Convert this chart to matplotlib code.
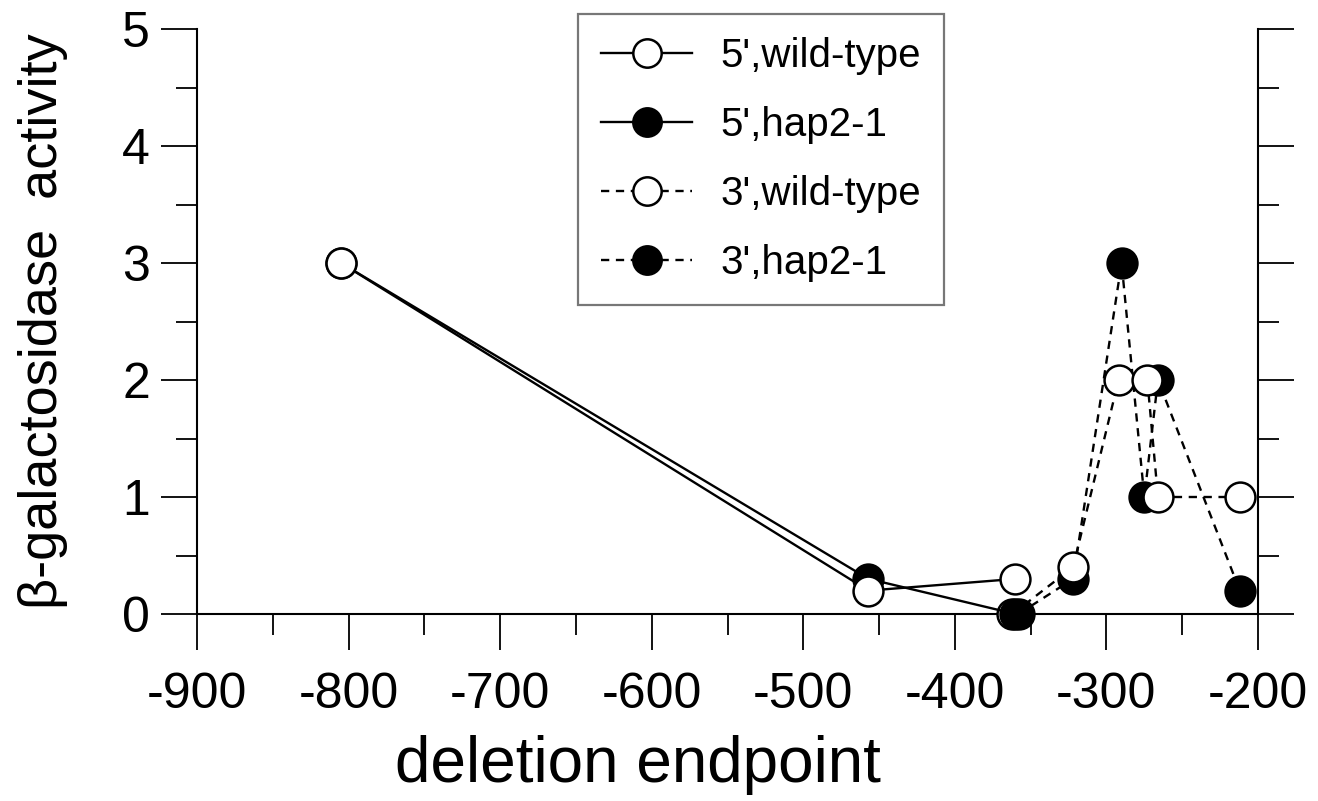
import matplotlib
matplotlib.use("Agg")
import matplotlib.pyplot as plt
from matplotlib.ticker import MultipleLocator

plt.rcParams['font.family'] = ['Liberation Sans', 'DejaVu Sans']
plt.rcParams['axes.unicode_minus'] = False

# data
x_5wt = [-805, -457, -360]
y_5wt = [3.0, 0.2, 0.3]
x_5hap = [-805, -457, -360]
y_5hap = [3.0, 0.3, 0.0]
x_3wt = [-362, -322, -292, -273, -266, -212]
y_3wt = [0.0, 0.4, 2.0, 2.0, 1.0, 1.0]
x_3hap = [-358, -322, -290, -275, -266, -212]
y_3hap = [0.0, 0.3, 3.0, 1.0, 2.0, 0.2]

labels = ["5',wild-type", "5',hap2-1", "3',wild-type", "3',hap2-1"]
x_ticks = [-900, -800, -700, -600, -500, -400, -300, -200]
y_ticks = [0, 1, 2, 3, 4, 5]

W, H = 1318, 801
fig = plt.figure(figsize=(W / 100, H / 100), dpi=100)
ax = fig.add_axes([197 / W, 1 - 614 / H, (1258 - 197) / W, (614 - 29) / H])

ms = 21.5
mew = 1.8
lw = 1.7
dash = (3.5, 2.8)

l3h, = ax.plot(x_3hap, y_3hap, color='black', lw=lw, dashes=dash, marker='o', ms=ms,
               mfc='black', mec='black', mew=mew, zorder=2)
l3w, = ax.plot(x_3wt, y_3wt, color='black', lw=lw, dashes=dash, marker='o', ms=ms,
               mfc='white', mec='black', mew=mew, zorder=3)
l5h, = ax.plot(x_5hap, y_5hap, color='black', lw=lw, marker='o', ms=ms,
               mfc='black', mec='black', mew=mew, zorder=4)
l5w, = ax.plot(x_5wt, y_5wt, color='black', lw=lw, marker='o', ms=ms,
               mfc='white', mec='black', mew=mew, zorder=5)

for l in (l3h, l3w, l5h, l5w):
    l.set_clip_on(False)

ax.set_xlim(-900, -200)
ax.set_ylim(0, 5)
ax.set_xticks(x_ticks)
ax.set_yticks(y_ticks)
ax.xaxis.set_minor_locator(MultipleLocator(50))
ax.yaxis.set_minor_locator(MultipleLocator(0.5))

for s in ('left', 'right', 'bottom'):
    ax.spines[s].set_linewidth(1.5)
ax.spines['top'].set_visible(False)

ax.tick_params(axis='both', which='major', direction='out', length=26, width=1.3,
               labelsize=36, pad=8)
ax.tick_params(axis='both', which='minor', direction='out', length=15, width=1.3)
ax.tick_params(axis='y', which='both', left=True, right=True)
ax.tick_params(axis='x', which='major', pad=16)

ax.set_xlabel('deletion endpoint', fontsize=46)
ax.xaxis.set_label_coords(0.4157, -0.207)
ax.set_ylabel('β-galactosidase  activity', fontsize=39)
ax.yaxis.set_label_coords(-0.122, 0.5)

leg = ax.legend([l5w, l5h, l3w, l3h], labels, loc='upper left',
                bbox_to_anchor=(0.359, 1.026), borderaxespad=0, fontsize=29,
                frameon=True, fancybox=False, edgecolor='#555555',
                handlelength=2.27, handletextpad=0.7, labelspacing=0.77,
                borderpad=0.57, markerscale=0.95)
leg.get_frame().set_linewidth(1.6)

fig.savefig('out.png', dpi=100)
